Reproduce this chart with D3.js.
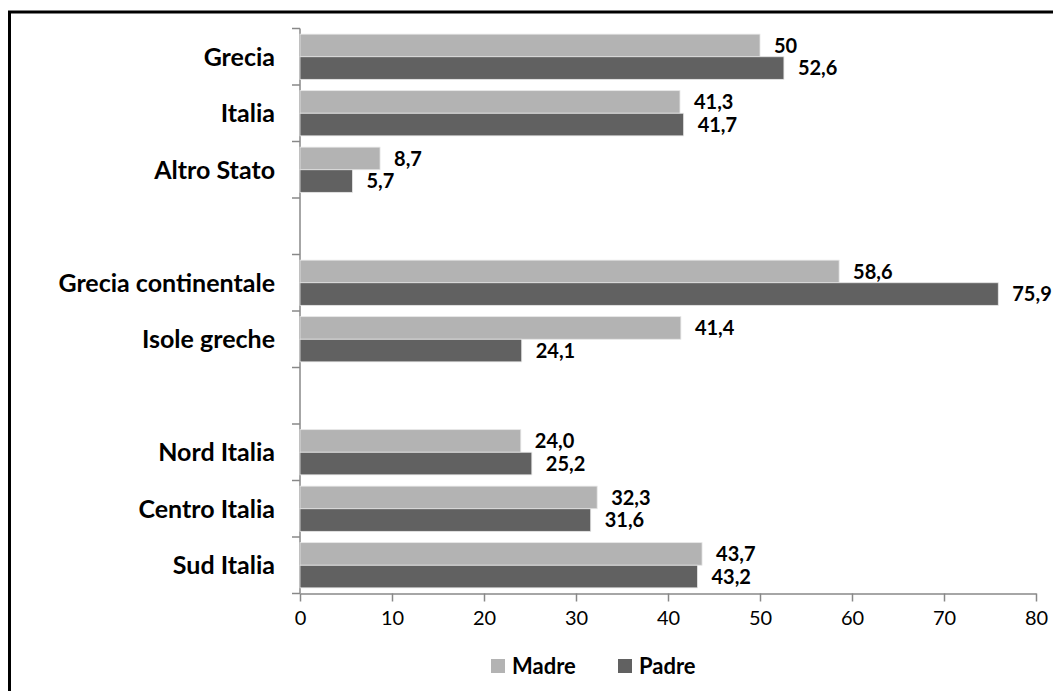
<!DOCTYPE html>
<html>
<head>
<meta charset="utf-8">
<script src="https://cdn.jsdelivr.net/npm/d3@7"></script>
<style>
  body { margin: 0; background: #fff; }
  svg { display: block; font-family: Lato, "Open Sans", sans-serif; }
</style>
</head>
<body>
<svg id="chart"></svg>
<script>
// Categories ('' = empty separator slots)
const categories = ['Grecia', 'Italia', 'Altro Stato', '', 'Grecia continentale', 'Isole greche', ' ', 'Nord Italia', 'Centro Italia', 'Sud Italia'];
const madre = [50, 41.3, 8.7, null, 58.6, 41.4, null, 24.0, 32.3, 43.7];
const padre = [52.6, 41.7, 5.7, null, 75.9, 24.1, null, 25.2, 31.6, 43.2];
const madreLabels = ['50', '41,3', '8,7', '', '58,6', '41,4', '', '24,0', '32,3', '43,7'];
const padreLabels = ['52,6', '41,7', '5,7', '', '75,9', '24,1', '', '25,2', '31,6', '43,2'];
const xTicks = [0, 10, 20, 30, 40, 50, 60, 70, 80];
const series = ['Madre', 'Padre'];
const colors = ['#b3b3b3', '#616161'];

const width = 1053, height = 691;
const svg = d3.select('#chart').attr('width', width).attr('height', height);

// outer frame
svg.append('rect')
    .attr('x', 9.5).attr('y', 12)
    .attr('width', 1100).attr('height', 800)
    .attr('fill', 'none').attr('stroke', '#000').attr('stroke-width', 3);

const x = d3.scaleLinear().domain([0, 80]).range([300, 1036]);
const y = d3.scaleBand().domain(categories).range([28.5, 593.5])
    .paddingInner(0.2).paddingOuter(0.1);
const sub = d3.scaleBand().domain(series).range([0, y.bandwidth()]);

const axisColor = '#888888';

// category axis line and ticks at slot boundaries
const step = y.step();
const boundaries = d3.range(categories.length + 1).map(i => 28.5 + i * step);
svg.append('line')
    .attr('x1', x(0)).attr('x2', x(0))
    .attr('y1', boundaries[0]).attr('y2', boundaries[boundaries.length - 1])
    .attr('stroke', axisColor).attr('stroke-width', 1.5);
svg.selectAll('.ytick').data(boundaries).enter().append('line')
    .attr('x1', x(0) - 8).attr('x2', x(0))
    .attr('y1', d => d).attr('y2', d => d)
    .attr('stroke', axisColor).attr('stroke-width', 1.5);

// category labels
svg.selectAll('.cat').data(categories.filter(c => c.trim() !== '')).enter().append('text')
    .attr('x', 275)
    .attr('y', d => y(d) + y.bandwidth() / 2)
    .attr('dy', '0.36em')
    .attr('text-anchor', 'end')
    .attr('font-size', 25).attr('font-weight', 'bold').attr('fill', '#000')
    .text(d => d);

// bars
const rows = categories.map((c, i) => ({cat: c, i: i}));
[madre, padre].forEach((vals, s) => {
  const labels = s === 0 ? madreLabels : padreLabels;
  const data = rows.filter(r => vals[r.i] != null);
  svg.selectAll('.bar' + s).data(data).enter().append('rect')
      .attr('x', x(0))
      .attr('y', d => y(d.cat) + sub(series[s]))
      .attr('width', d => x(vals[d.i]) - x(0))
      .attr('height', sub.bandwidth())
      .attr('fill', colors[s])
      .attr('stroke', '#e6e6e6').attr('stroke-width', 0.8);
  svg.selectAll('.lab' + s).data(data).enter().append('text')
      .attr('x', d => x(vals[d.i]) + 14)
      .attr('y', d => y(d.cat) + sub(series[s]) + sub.bandwidth() / 2)
      .attr('dy', '0.36em')
      .attr('font-size', 20).attr('font-weight', 'bold').attr('fill', '#000')
      .text(d => labels[d.i]);
});

// value axis
const xAxis = svg.append('g')
    .attr('transform', 'translate(0,' + 593.5 + ')')
    .call(d3.axisBottom(x).tickValues(xTicks).tickSize(8).tickSizeOuter(0).tickPadding(9));
xAxis.select('.domain').attr('stroke', axisColor).attr('stroke-width', 1.5);
xAxis.selectAll('.tick line').attr('stroke', axisColor).attr('stroke-width', 1.5);
xAxis.selectAll('.tick text')
    .attr('font-family', 'Lato, sans-serif').attr('font-size', 20).attr('fill', '#000');

// legend
const legendX = [491, 618];
series.forEach((s, i) => {
  svg.append('rect')
      .attr('x', legendX[i]).attr('y', 659)
      .attr('width', 14).attr('height', 14)
      .attr('fill', colors[i]);
  svg.append('text')
      .attr('x', legendX[i] + 21).attr('y', 674)
      .attr('font-size', 22).attr('font-weight', 'bold').attr('fill', '#000')
      .text(s);
});
</script>
</body>
</html>
